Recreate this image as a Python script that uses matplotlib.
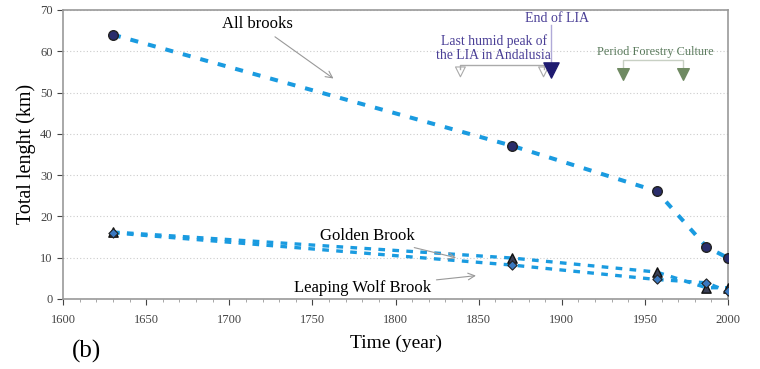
import matplotlib.pyplot as plt
from matplotlib.ticker import MultipleLocator

plt.rcParams['font.family'] = ['Liberation Serif', 'DejaVu Serif']

years = [1630, 1870, 1957, 1987, 2000]
all_brooks = [64.0, 37.1, 26.1, 12.6, 9.9]
golden = [16.2, 9.9, 6.5, 2.7, 2.7]
leaping = [16.0, 8.2, 4.7, 3.9, 1.8]

line_col = '#1a9be0'

fig = plt.figure(figsize=(7.6, 3.69), dpi=100)
ax = fig.add_axes([0.083, 0.19, 0.875, 0.783])

ax.plot(years, all_brooks, color=line_col, lw=2.9, ls=(0, (2.0, 2.5)), zorder=2)
ax.plot(years, golden, color=line_col, lw=2.4, ls=(0, (2.0, 2.2)), zorder=2)
ax.plot(years, leaping, color=line_col, lw=2.4, ls=(0, (2.0, 2.2)), zorder=2)
ax.scatter(years, all_brooks, marker='o', s=48, color='#2a2d6b', edgecolor='#222222', lw=1, zorder=3)
ax.scatter(years, golden, marker='^', s=45, color='#3a3f55', edgecolor='#111111', lw=1, zorder=3)
ax.scatter(years, leaping, marker='D', s=22, color='#3a78c0', edgecolor='#222222', lw=0.8, zorder=4)

ax.set_xlim(1600, 2000)
ax.set_ylim(0, 70)
ax.xaxis.set_major_locator(MultipleLocator(50))
ax.xaxis.set_minor_locator(MultipleLocator(10))
ax.yaxis.set_major_locator(MultipleLocator(10))
ax.grid(axis='y', ls=(0, (1, 2)), color='#cccccc', lw=0.8)
for s in ax.spines.values():
    s.set_color('#999999')
    s.set_linewidth(1.2)
ax.tick_params(labelsize=9, colors='#444444', length=4, width=0.8)
ax.tick_params(which='minor', length=2.5, color='#999999')
ax.tick_params(axis='x', pad=7)

ax.set_xlabel('Time (year)', fontsize=14, labelpad=6)
ax.set_ylabel('Total lenght (km)', fontsize=14.5, labelpad=3)
fig.text(0.094, 0.03, '(b)', fontsize=18)

arr = dict(arrowstyle='->', color='#999999', lw=0.8)
ax.annotate('All brooks', xy=(1764, 53), xytext=(1717, 66.5), fontsize=12,
            ha='center', va='center', arrowprops=arr)
ax.annotate('Golden Brook', xy=(1838, 9.8), xytext=(1783, 15.2), fontsize=12,
            ha='center', va='center', arrowprops=arr)
ax.annotate('Leaping Wolf Brook', xy=(1850, 5.7), xytext=(1780, 2.7), fontsize=12,
            ha='center', va='center', arrowprops=arr)

# End of LIA
ax.text(1897, 68.0, 'End of LIA', fontsize=10, color='#4a3f96', ha='center', va='center')
ax.plot([1893.5, 1893.5], [66.3, 57], color='#b0aad8', lw=1)
ax.scatter([1893.5], [55.4], marker='v', s=120, color='#1e1a70', zorder=4)

# Last humid peak bracket
ax.text(1859, 60.8, 'Last humid peak of\nthe LIA in Andalusia', fontsize=9.8,
        color='#4a3f96', ha='center', va='center', linespacing=1.1)
gc = '#aaaaaa'
ax.plot([1839, 1839, 1889, 1889], [55.6, 56.7, 56.7, 55.6], color=gc, lw=1)
ax.scatter([1839, 1889], [55.0, 55.0], marker='v', s=50, facecolor='none', edgecolor=gc, lw=0.8)

# Period Forestry Culture bracket
ax.text(1956.4, 59.8, 'Period Forestry Culture', fontsize=8.8, color='#5a7a5c', ha='center', va='center')
ax.plot([1937, 1937, 1973, 1973], [56, 57.9, 57.9, 56], color='#c8d0c4', lw=1)
ax.scatter([1937, 1973], [54.5, 54.5], marker='v', s=70, color='#6f8a62', zorder=4)

fig.savefig('out.png', dpi=100)
